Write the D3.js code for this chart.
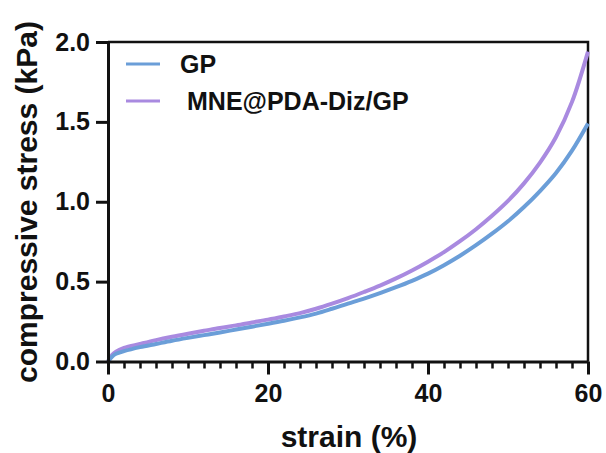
<!DOCTYPE html>
<html>
<head>
<meta charset="utf-8">
<script src="https://cdn.jsdelivr.net/npm/d3@7"></script>
<style>
  html, body { margin: 0; padding: 0; background: #fff; }
  svg { display: block; font-family: "Liberation Sans", Arial, sans-serif; font-weight: bold; }
</style>
</head>
<body>
<svg id="chart" width="606" height="453"></svg>
<script>
// ---- data ----
const strain = [0, 0.5, 1, 2, 4, 6, 8, 10, 12, 14, 16, 18, 20, 22, 24, 26, 28, 30, 32, 34, 36, 38, 40, 42, 44, 46, 48, 50, 52, 54, 56, 58, 60];
const gpStress = [0, 0.03, 0.048, 0.065, 0.09, 0.11, 0.13, 0.148, 0.165, 0.182, 0.2, 0.218, 0.236, 0.255, 0.276, 0.3, 0.33, 0.362, 0.393, 0.428, 0.465, 0.505, 0.55, 0.603, 0.662, 0.728, 0.8, 0.878, 0.967, 1.067, 1.18, 1.32, 1.49];
const mneStress = [0, 0.04, 0.062, 0.085, 0.11, 0.134, 0.155, 0.174, 0.192, 0.21, 0.226, 0.244, 0.262, 0.282, 0.303, 0.33, 0.362, 0.397, 0.435, 0.475, 0.52, 0.57, 0.625, 0.685, 0.753, 0.828, 0.912, 1.005, 1.115, 1.245, 1.405, 1.625, 1.94];
const seriesNames = ["GP", "MNE@PDA-Diz/GP"];
const seriesColors = ["#6b9ed8", "#a98ae0"];
const xTicks = [0, 20, 40, 60];
const xMinorTicks = d3.range(0, 61, 2);
const yTicks = [0, 0.5, 1.0, 1.5, 2.0];

// ---- layout ----
const svg = d3.select("#chart");
const x = d3.scaleLinear().domain([0, 60]).range([108, 588]);
const y = d3.scaleLinear().domain([0, 2]).range([361.5, 42]);

// frame (top & right)
svg.append("path")
  .attr("d", `M${x(0)},${y(2)}H${x(60)}V${y(0)}`)
  .attr("fill", "none").attr("stroke", "#111").attr("stroke-width", 2.5);

// curves (MNE first, GP on top)
const line = d3.line().curve(d3.curveCatmullRom.alpha(0.5));
const seriesData = [gpStress, mneStress];
[1, 0].forEach(i => {
  svg.append("path")
    .attr("d", line(strain.map((s, j) => [x(s), y(seriesData[i][j])])))
    .attr("fill", "none")
    .attr("stroke", seriesColors[i])
    .attr("stroke-width", 4)
    .attr("stroke-linejoin", "round");
});

// x axis minor ticks
const xMinor = svg.append("g").attr("transform", `translate(0,${y(0)})`)
  .call(d3.axisBottom(x).tickValues(xMinorTicks.filter(v => v % 20 !== 0)).tickSize(7).tickFormat(""));
xMinor.select(".domain").remove();
xMinor.selectAll("line").attr("stroke", "#111").attr("stroke-width", 2.5);

// x axis major
const xAxis = svg.append("g").attr("transform", `translate(0,${y(0)})`)
  .call(d3.axisBottom(x).tickValues(xTicks).tickSize(13).tickSizeOuter(0).tickPadding(10).tickFormat(d3.format("d")));
xAxis.select(".domain").attr("stroke", "#111").attr("stroke-width", 3);
xAxis.selectAll("line").attr("stroke", "#111").attr("stroke-width", 3);
xAxis.selectAll("text").attr("font-size", 25).attr("font-weight", "bold").attr("fill", "#111")
  .attr("font-family", "Liberation Sans, Arial, sans-serif");

// y axis
const yAxis = svg.append("g").attr("transform", `translate(${x(0)},0)`)
  .call(d3.axisLeft(y).tickValues(yTicks).tickSize(12).tickSizeOuter(0).tickPadding(6).tickFormat(d3.format(".1f")));
yAxis.select(".domain").attr("stroke", "#111").attr("stroke-width", 3);
yAxis.selectAll("line").attr("stroke", "#111").attr("stroke-width", 3);
yAxis.selectAll("text").attr("font-size", 25).attr("font-weight", "bold").attr("fill", "#111")
  .attr("font-family", "Liberation Sans, Arial, sans-serif");

// axis titles
svg.append("text").attr("x", 349).attr("y", 447).attr("text-anchor", "middle")
  .attr("font-size", 30).attr("fill", "#111").text("strain (%)");
svg.append("text").attr("transform", "translate(37,202) rotate(-90)").attr("text-anchor", "middle")
  .attr("font-size", 30).attr("fill", "#111").text("compressive stress (kPa)");

// legend
const legendY = [64, 101];
const legendTextX = [180, 187];
seriesNames.forEach((name, i) => {
  svg.append("line").attr("x1", 126).attr("x2", 160).attr("y1", legendY[i]).attr("y2", legendY[i])
    .attr("stroke", seriesColors[i]).attr("stroke-width", 3);
  svg.append("text").attr("x", legendTextX[i]).attr("y", legendY[i] + 9)
    .attr("font-size", 25).attr("fill", "#111").text(name);
});
</script>
</body>
</html>
